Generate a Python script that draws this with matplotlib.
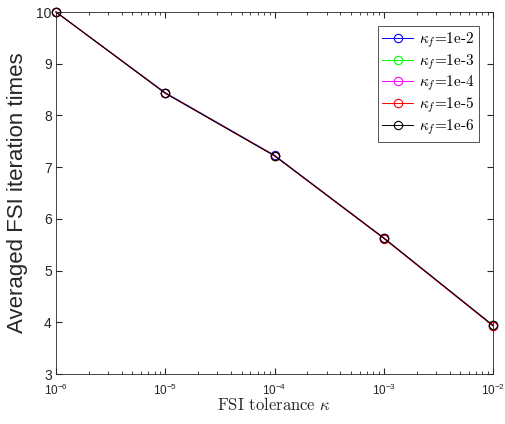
import matplotlib
matplotlib.use("Agg")
import matplotlib.pyplot as plt
import numpy as np

# FSI tolerance values and averaged iteration counts per kappa_f
tolerance = [1e-6, 1e-5, 1e-4, 1e-3, 1e-2]
kappa_f_labels = ["1e-2", "1e-3", "1e-4", "1e-5", "1e-6"]
iters_1e2 = [10.0, 8.44, 7.23, 5.63, 3.94]
iters_1e3 = [10.0, 8.43, 7.22, 5.63, 3.94]
iters_1e4 = [10.0, 8.43, 7.22, 5.63, 3.93]
iters_1e5 = [10.0, 8.43, 7.22, 5.62, 3.93]
iters_1e6 = [10.0, 8.43, 7.22, 5.63, 3.94]
colors = ["#0000ff", "#00ff00", "#ff00ff", "#ff0000", "#000000"]

plt.rcParams["font.family"] = "Liberation Sans"
plt.rcParams["mathtext.fontset"] = "custom"
plt.rcParams["mathtext.rm"] = "Liberation Sans"
plt.rcParams["mathtext.it"] = "Liberation Sans:italic"

fig = plt.figure(figsize=(5.05, 4.24), dpi=100)
ax = fig.add_axes([56 / 505, 1 - 374 / 424, (493 - 56) / 505, (374 - 12) / 424])

series = [iters_1e2, iters_1e3, iters_1e4, iters_1e5, iters_1e6]
for vals, lab, c in zip(series, kappa_f_labels, colors):
    ax.plot(tolerance, vals, color=c, linewidth=0.7, marker="o", markersize=6,
            markerfacecolor="none", markeredgecolor=c, markeredgewidth=0.8,
            label=r"$\kappa_f$=" + lab, clip_on=False)

ax.set_xscale("log")
ax.set_xlim(1e-6, 1e-2)
ax.set_ylim(3, 10)
ax.set_yticks(np.arange(3, 11))
ax.tick_params(which="both", direction="in", top=True, right=True,
               colors="#262626", labelcolor="#262626")
ax.tick_params(axis="y", labelsize=10, pad=3)
ax.tick_params(axis="x", which="major", labelsize=8.5, pad=6)
ax.tick_params(which="major", length=4)
ax.tick_params(which="minor", length=2)
for sp in ax.spines.values():
    sp.set_color("#262626")
    sp.set_linewidth(0.6)

ax.set_ylabel("Averaged FSI iteration times", fontsize=16, color="#262626", labelpad=6)
xl = ax.set_xlabel(r"FSI tolerance $\kappa$", fontsize=12, color="#262626",
                   family="cmr10", labelpad=-1)
xl.set_math_fontfamily("cm")

leg = ax.legend(loc="upper right", fontsize=11, frameon=True, fancybox=False,
                edgecolor="#262626", borderpad=0.3, labelspacing=0.15,
                handlelength=2.0, handletextpad=0.4, borderaxespad=0.9)
leg.get_frame().set_linewidth(0.7)
for t in leg.get_texts():
    t.set_fontfamily("cmr10")
    t.set_math_fontfamily("cm")

fig.savefig("out.png", dpi=100)
